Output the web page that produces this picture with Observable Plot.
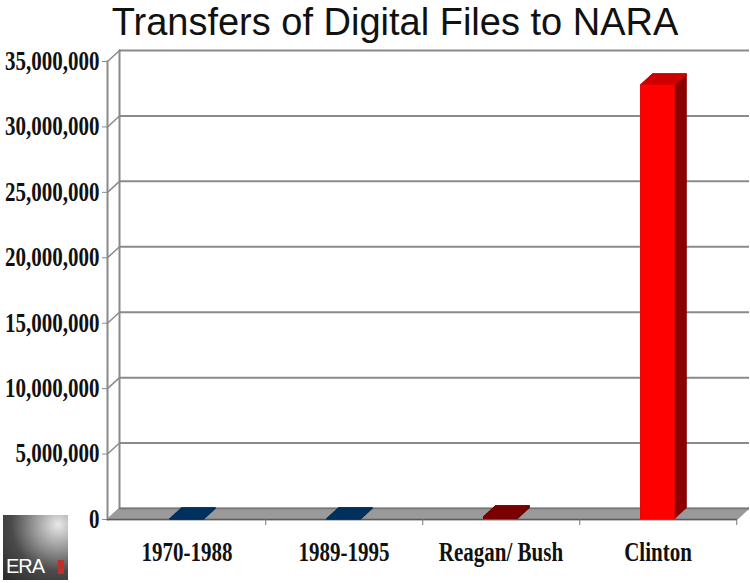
<!DOCTYPE html>
<html>
<head>
<meta charset="utf-8">
<script src="https://cdn.jsdelivr.net/npm/d3@7"></script>
<script src="https://cdn.jsdelivr.net/npm/@observablehq/plot@0.6"></script>
<style>
  body { margin: 0; background: #fff; width: 750px; height: 583px; overflow: hidden; position: relative; }
  #title { height: 44px; line-height: 44px; font-family: "Liberation Sans", Arial, sans-serif; font-size: 38px; color: #111; text-align: center; padding-left: 40px; white-space: nowrap; }
  #logo { position: absolute; left: 3px; top: 515px; width: 65px; height: 65px;
    background: radial-gradient(circle at 85% 15%, #e8e8e8 0%, #9a9a9a 30%, #4a4a4a 60%, #2a2a2a 100%);
    font-family: "Liberation Sans", Arial, sans-serif; color: #fff; font-size: 20px; }
  #logo span { position: absolute; left: 3px; bottom: 2px; letter-spacing: -1px; }
  #logo i { position: absolute; right: 4px; bottom: 6px; width: 6px; height: 14px; background: #c0302a; }
</style>
</head>
<body>
<div id="title">Transfers of Digital Files to NARA</div>
<div id="chart"></div>
<div id="logo"><i></i><span>ERA</span></div>
<script>
// ---- data ----
const categories = ["1970-1988", "1989-1995", "Reagan/ Bush", "Clinton"];
const transfers = [30000, 40000, 200000, 33200000];
const yTicks = [0, 5000000, 10000000, 15000000, 20000000, 25000000, 30000000, 35000000];

// ---- styles ----
const frontColor = {"1970-1988": "#00305e", "1989-1995": "#00305e", "Reagan/ Bush": "#7a0000", "Clinton": "#ff0000"};
const topColor   = {"1970-1988": "#00305e", "1989-1995": "#00305e", "Reagan/ Bush": "#7a0000", "Clinton": "#cc0000"};
const sideColor  = {"1970-1988": "#001f40", "1989-1995": "#001f40", "Reagan/ Bush": "#500000", "Clinton": "#8b0000"};

const data = categories.map((c, i) => ({cat: c, value: transfers[i]}));

const W = 750, H = 539;
const mL = 107, mR = 13, mT = 17, mB = 64;
const DX = 12, DY = -11;           // depth of the 3D effect in px
const step = (W - mL - mR) / categories.length;
const barW = 35;
const inset = (step - barW) / 2;
const gridColor = "#8a8a8a";

const marks = [];
marks.push(Plot.ruleY(yTicks, {dx: DX, dy: DY, stroke: gridColor, strokeWidth: 2}));
marks.push(Plot.frame({anchor: "left", dx: DX, dy: DY, stroke: gridColor, strokeWidth: 2}));
marks.push(Plot.frame({anchor: "left", stroke: gridColor, strokeWidth: 2}));
marks.push(Plot.vector(yTicks, {y: d => d, frameAnchor: "left", anchor: "start",
  length: Math.hypot(DX, DY), rotate: Math.atan2(DX, -DY) * 180 / Math.PI, r: 0,
  stroke: gridColor, strokeWidth: 1.5}));
for (let i = 0; i <= DX; i += 0.5) {
  marks.push(Plot.ruleY([0], {dx: i, dy: DY * i / DX, stroke: "#9a9a9a", strokeWidth: 1.5}));
}
marks.push(Plot.ruleY([0], {dx: DX, dy: DY, stroke: "#777", strokeWidth: 1.5}));
marks.push(Plot.ruleY([0], {stroke: "#5a5a5a", strokeWidth: 1.5}));
marks.push(Plot.ruleX(categories, {x: d => d, y1: 0, y2: 0, insetBottom: -6, dx: step / 2, stroke: "#777", strokeWidth: 1}));
for (let i = 0; i <= DX; i += 0.5) {
  marks.push(Plot.barY(data, {x: "cat", y: "value", insetLeft: inset, insetRight: inset,
    dx: i, dy: DY * i / DX, fill: d => sideColor[d.cat]}));
}
for (let i = 0; i <= DX; i += 0.5) {
  marks.push(Plot.tickY(data, {x: "cat", y: "value", insetLeft: inset, insetRight: inset,
    dx: i, dy: DY * i / DX, stroke: d => topColor[d.cat], strokeWidth: 1.5}));
}
marks.push(Plot.barY(data, {x: "cat", y: "value", insetLeft: inset, insetRight: inset,
  fill: d => frontColor[d.cat]}));
marks.push(Plot.axisY(yTicks, {anchor: "left", tickFormat: d3.format(","), tickSize: 5, tickPadding: 3, stroke: gridColor, fill: "#111", label: null}));
marks.push(Plot.axisX({anchor: "bottom", tickSize: 0, tickPadding: 23, fill: "#111", label: null}));

const chart = Plot.plot({
  width: W, height: H,
  marginLeft: mL, marginRight: mR, marginTop: mT, marginBottom: mB,
  style: {fontFamily: "'Liberation Serif', 'Times New Roman', serif", fontSize: "21px", fontWeight: "bold", background: "#fff", color: "#111"},
  x: {type: "band", domain: categories, padding: 0},
  y: {domain: [0, 35000000]},
  color: {type: "identity"},
  marks
});
// stretch tick labels vertically like the original's tall serif type
d3.select(chart).selectAll("text").each(function() {
  const t = this.getAttribute("transform");
  if (t) this.setAttribute("transform", t + " scale(1,1.25)");
});
document.getElementById("chart").appendChild(chart);
</script>
</body>
</html>
